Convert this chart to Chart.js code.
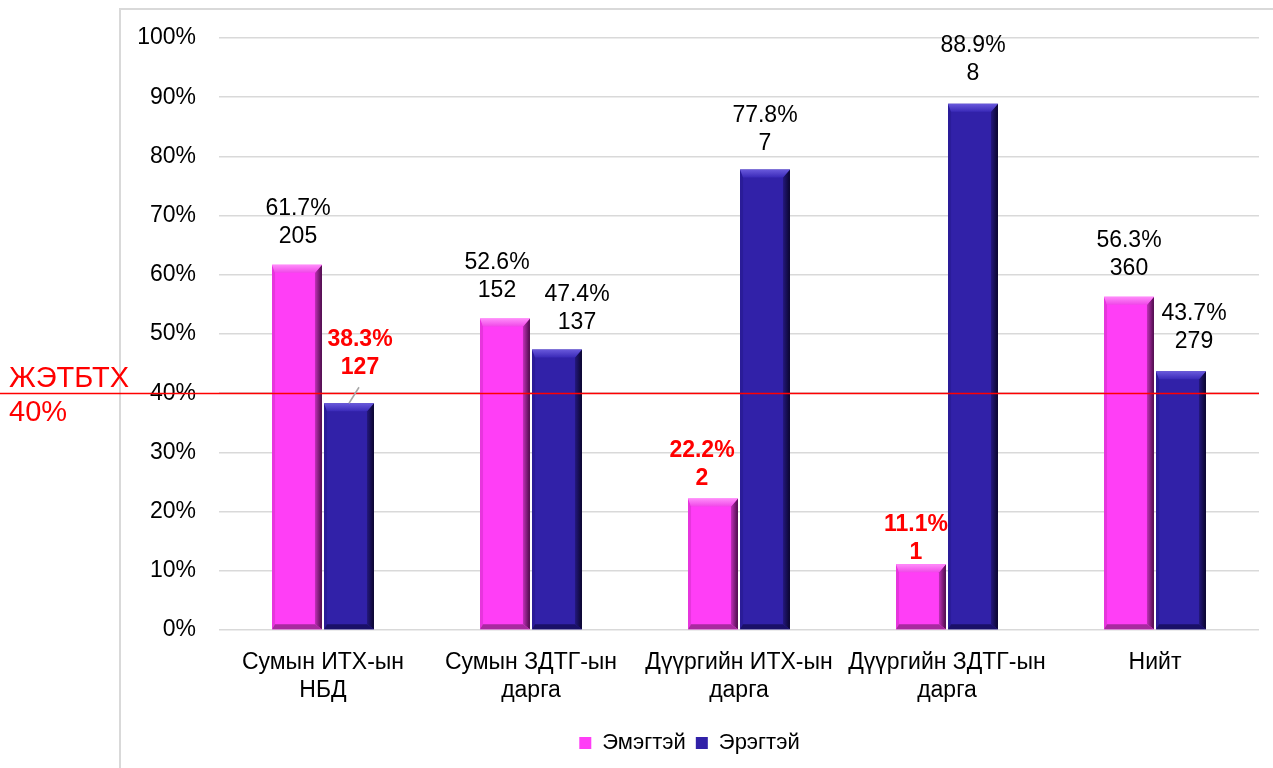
<!DOCTYPE html>
<html><head><meta charset="utf-8">
<script src="https://cdn.jsdelivr.net/npm/chart.js@4"></script>
<style>html,body{margin:0;padding:0;background:#fff}#wrap{position:relative;width:1273px;height:768px}</style>
</head><body><div id="wrap"><canvas id="c" width="1273" height="768"></canvas></div>
<script>
const categories = [["Сумын ИТХ-ын","НБД"],["Сумын ЗДТГ-ын","дарга"],["Дүүргийн ИТХ-ын","дарга"],["Дүүргийн ЗДТГ-ын","дарга"],["Нийт"]];
const seriesNames = ["Эмэгтэй","Эрэгтэй"];
const womenPct = [61.7, 52.6, 22.2, 11.1, 56.3];
const menPct = [38.3, 47.4, 77.8, 88.9, 43.7];
const womenCount = [205, 152, 2, 1, 360];
const menCount = [127, 137, 7, 8, 279];
const yTickValues = [0, 10, 20, 30, 40, 50, 60, 70, 80, 90, 100];
const thresholdValue = 40;
const thresholdLabel = ["ЖЭТБТХ", "40%"];

const FONT = "'Liberation Sans', Arial, sans-serif";
const bevelStyles = [
  {body:'#FF3EF6', top:['#FF8CFA','#F048E8'], right:['#C030B8','#4A0C48'], left:'#E636DC', bottom:'#A82AA0'},
  {body:'#3121A8', top:['#6A5ADC','#3A2AB8'], right:['#24187E','#0A052C'], left:'#2A1C98', bottom:'#1A1068'}
];

const framePlugin = {
  id:'frame',
  beforeDraw(chart){
    const c = chart.ctx; c.save();
    c.strokeStyle = '#d9d9d9'; c.lineWidth = 2;
    c.beginPath(); c.moveTo(120, 768); c.lineTo(120, 9); c.lineTo(1273, 9); c.stroke();
    c.restore();
  }
};

const decoPlugin = {
  id:'deco',
  afterDatasetsDraw(chart, args, opts){
    const c = chart.ctx;
    chart.data.datasets.forEach((ds, di) => {
      const st = bevelStyles[di];
      chart.getDatasetMeta(di).data.forEach(el => {
        const p = el.getProps(['x','y','base','width'], true);
        const l = p.x - p.width/2, r = p.x + p.width/2, t = p.y, b = p.base;
        const bv = Math.min(8, (b - t)/2), rv = 7, lv = 3, bb = 5;
        c.save();
        let g = c.createLinearGradient(r - rv, 0, r, 0);
        g.addColorStop(0, st.right[0]); g.addColorStop(1, st.right[1]);
        c.fillStyle = g; c.beginPath();
        c.moveTo(r, t); c.lineTo(r, b); c.lineTo(r - rv, b - bb); c.lineTo(r - rv, t + bv); c.closePath(); c.fill();
        c.fillStyle = st.left; c.beginPath();
        c.moveTo(l, t); c.lineTo(l + lv, t + bv); c.lineTo(l + lv, b - bb); c.lineTo(l, b); c.closePath(); c.fill();
        c.fillStyle = st.bottom; c.beginPath();
        c.moveTo(l, b); c.lineTo(l + lv, b - bb); c.lineTo(r - rv, b - bb); c.lineTo(r, b); c.closePath(); c.fill();
        g = c.createLinearGradient(0, t, 0, t + bv);
        g.addColorStop(0, st.top[0]); g.addColorStop(1, st.top[1]);
        c.fillStyle = g; c.beginPath();
        c.moveTo(l, t); c.lineTo(r, t); c.lineTo(r - rv, t + bv); c.lineTo(l + lv, t + bv); c.closePath(); c.fill();
        c.restore();
      });
    });
    const ys = chart.scales.y;
    const ty = Math.round(ys.getPixelForValue(thresholdValue)) + 0.5;
    c.save();
    c.strokeStyle = '#FF0000'; c.lineWidth = 1.5;
    c.beginPath(); c.moveTo(0, ty); c.lineTo(chart.chartArea.right, ty); c.stroke();
    c.fillStyle = '#FF0000'; c.font = '29px ' + FONT; c.textAlign = 'left'; c.textBaseline = 'middle';
    c.fillText(thresholdLabel[0], 9, ty - 15);
    c.fillText(thresholdLabel[1], 9, ty + 19);
    c.restore();
    const pcts = [womenPct, menPct], cnts = [womenCount, menCount];
    chart.data.datasets.forEach((ds, di) => {
      chart.getDatasetMeta(di).data.forEach((el, i) => {
        const p = el.getProps(['x','y'], true);
        const v = pcts[di][i];
        const red = v < thresholdValue;
        const cx = p.x + opts.dx[di][i];
        const y2 = p.y + opts.dy[di][i];
        const y1 = y2 - 28;
        c.save();
        c.fillStyle = red ? '#FF0000' : '#000';
        c.font = (red ? 'bold ' : '') + '23px ' + FONT;
        c.textAlign = 'center'; c.textBaseline = 'middle';
        c.fillText(v.toFixed(1) + '%', cx, y1);
        c.fillText(String(cnts[di][i]), cx, y2);
        const ld = opts.leaders.find(q => q.d === di && q.i === i);
        if (ld) {
          c.strokeStyle = '#a6a6a6'; c.lineWidth = 1.5;
          c.beginPath(); c.moveTo(p.x, p.y); c.lineTo(p.x + ld.dx, p.y + ld.dy); c.stroke();
        }
        c.restore();
      });
    });
  }
};

new Chart(document.getElementById('c'), {
  type:'bar',
  data:{
    labels: categories,
    datasets:[
      {label: seriesNames[0], data: womenPct, backgroundColor: bevelStyles[0].body, borderWidth:0, categoryPercentage:0.5, barPercentage:0.96},
      {label: seriesNames[1], data: menPct, backgroundColor: bevelStyles[1].body, borderWidth:0, categoryPercentage:0.5, barPercentage:0.96}
    ]
  },
  options:{
    responsive:false, animation:false, devicePixelRatio:1,
    layout:{padding:{left:120, right:14, top:38, bottom:4}},
    scales:{
      x:{
        grid:{display:false, drawTicks:false}, border:{display:false},
        ticks:{color:'#000', font:{family:FONT, size:23}, padding:19, maxRotation:0, autoSkip:false},
        afterFit(s){ s.height = 92; }
      },
      y:{
        min:0, max:100,
        afterBuildTicks(s){ s.ticks = yTickValues.map(v => ({value:v})); },
        grid:{color:'#d9d9d9', lineWidth:1.5, drawTicks:false}, border:{display:false},
        ticks:{color:'#000', font:{family:FONT, size:23}, padding:23, callback:v => v + '%'},
        afterFit(s){ s.width = 99; }
      }
    },
    plugins:{
      legend:{position:'bottom', labels:{color:'#000', font:{family:FONT, size:22}, boxWidth:12, boxHeight:12, padding:10}},
      tooltip:{enabled:false},
      deco:{
        dx:[[1,-8,-11,-5,0],[11,20,0,0,13]],
        dy:[[-28,-28,-20,-12,-28],[-36,-27,-26,-30,-30]],
        leaders:[{d:1, i:0, dx:10, dy:-16}]
      }
    }
  },
  plugins:[framePlugin, decoPlugin]
});
</script></body></html>
